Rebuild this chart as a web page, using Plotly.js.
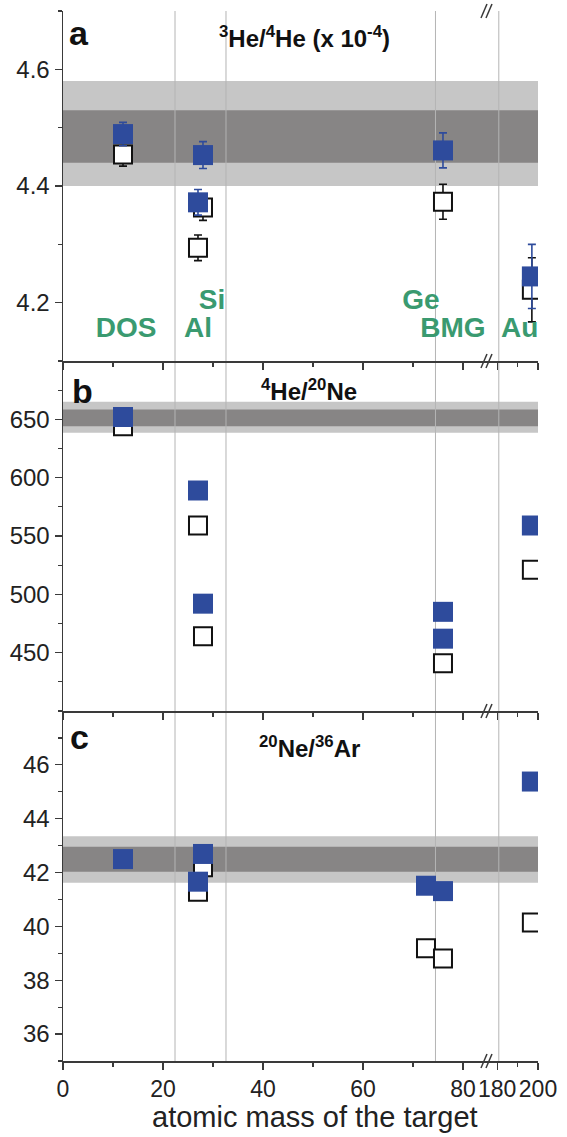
<!DOCTYPE html>
<html><head><meta charset="utf-8">
<script src="https://cdn.plot.ly/plotly-3.0.1.min.js"></script>
<style>html,body{margin:0;padding:0;background:#fff}</style>
</head><body><div id="chart" style="width:567px;height:1137px"></div>
<script>
// ---------- data ----------
// panel a : 3He/4He (x 1e-4)
const heX       = [12, 27, 28, 76, 197];
const heBlue    = [4.489, 4.372, 4.453, 4.461, 4.245];
const heBlueErr = [0.020, 0.022, 0.023, 0.030, 0.055];
const heOpen    = [4.454, 4.294, 4.363, 4.373, 4.222];
const heOpenErr = [0.020, 0.022, 0.022, 0.030, 0.055];
const heBand    = [4.40, 4.58];
const heBandCore= [4.44, 4.53];
const heTicks   = [4.2, 4.4, 4.6];
// panel b : 4He/20Ne
const neBlueX   = [12, 27, 28, 76, 76, 197];
const neBlue    = [652, 589, 492, 485, 462, 559];
const neOpenX   = [12, 27, 28, 76, 197];
const neOpen    = [644, 559, 464, 441, 521];
const neOpenErr = [4, 6, 6, 6, 6];
const neBand    = [638.5, 665];
const neBandCore= [644, 658.5];
const neTicks   = [450, 500, 550, 600, 650];
// panel c : 20Ne/36Ar
const arBlueX   = [12, 27, 28, 72.6, 76, 197];
const arBlue    = [42.50, 41.66, 42.69, 41.51, 41.31, 45.38];
const arOpenX   = [27, 28, 72.6, 76, 197];
const arOpen    = [41.29, 42.20, 39.19, 38.81, 40.14];
const arOpenErr = [0.15, 0.15, 0.15, 0.15, 0.15];
const arBand    = [41.62, 43.35];
const arBandCore= [42.03, 42.96];
const arTicks   = [36, 38, 40, 42, 44, 46];
// x ticks
const xTicksLeft  = [0, 20, 40, 60, 80];
const xTicksRight = [180, 200];
// target labels
const labelText = ['DOS', 'Al', 'Si', 'Ge', 'BMG', 'Au'];
const labelX    = [12.6, 27.0, 29.8, 71.6, 78.0, 191];
const labelY    = [4.153, 4.153, 4.202, 4.202, 4.153, 4.153];
// boundaries between target groups
const sepX = [22.4, 32.6, 74.5, 180.8];

// ---------- styling ----------
const BLUE = '#2e4b9c', GREEN = '#3a9a70', AX = '#3a3a3a';
const FONT = 'Liberation Sans, Arial, sans-serif';
const BRK = 0.8947;            // split between the two x segments (paper)
const RL = [0, 85], RR = [175.5, 200];
const px2x = p => (p - 63) / 475;
const py2y = p => (1061 - p) / 1050;

function split(xs, ys, es, right) {
  const o = {x: [], y: [], e: []};
  xs.forEach((v, i) => {
    if ((v > 100) === right) { o.x.push(v); o.y.push(ys[i]); o.e.push(es ? es[i] : 0); }
  });
  return o;
}
const traces = [];
function addSeries(xs, ys, es, open, xa, xb, ya) {
  [false, true].forEach(right => {
    const d = split(xs, ys, es, right);
    if (!d.x.length) return;
    traces.push({
      type: 'scatter', mode: 'markers', x: d.x, y: d.y,
      xaxis: right ? xb : xa, yaxis: ya, showlegend: false, cliponaxis: true,
      marker: open ? {symbol: 'square', size: 18, color: '#fff', line: {color: '#111', width: 2}}
                   : {symbol: 'square', size: 20, color: BLUE, line: {width: 0}},
      error_y: es ? {type: 'data', array: d.e, visible: true, color: open ? '#111' : BLUE,
                     thickness: 1.6, width: 4} : {visible: false}
    });
  });
}
// panel a
addSeries(heX, heOpen, heOpenErr, true, 'x', 'x2', 'y');
addSeries(heX, heBlue, heBlueErr, false, 'x', 'x2', 'y');
// panel b
addSeries(neOpenX, neOpen, neOpenErr, true, 'x3', 'x4', 'y2');
addSeries(neBlueX, neBlue, null, false, 'x3', 'x4', 'y2');
// panel c
addSeries(arOpenX, arOpen, arOpenErr, true, 'x5', 'x6', 'y3');
addSeries(arBlueX, arBlue, null, false, 'x5', 'x6', 'y3');
// target labels
[false, true].forEach(right => {
  const t = [], x = [], y = [];
  labelX.forEach((v, i) => { if ((v > 100) === right) { t.push('<b>' + labelText[i] + '</b>'); x.push(v); y.push(labelY[i]); } });
  traces.push({type: 'scatter', mode: 'text', x, y, text: t, textposition: 'middle center',
    xaxis: right ? 'x2' : 'x', yaxis: 'y', cliponaxis: true, showlegend: false, hoverinfo: 'skip',
    textfont: {family: FONT, size: 28, color: GREEN}});
});

// ---------- axes ----------
const baseX = {showline: true, linecolor: AX, linewidth: 1.5, ticks: 'outside', ticklen: 7,
  tickwidth: 1.2, tickcolor: AX, showgrid: false, zeroline: false, showticklabels: false, tickangle: 0,
  tickfont: {family: FONT, size: 23, color: '#222'}, fixedrange: true};
function leftX(anchor, extra) {
  return Object.assign({}, baseX, {domain: [0, BRK], range: RL, anchor, tickmode: 'array', tickvals: xTicksLeft,
    minor: {tickmode: 'linear', dtick: 10, tick0: 0, ticks: 'outside', ticklen: 4, tickcolor: AX}}, extra || {});
}
function rightX(anchor, extra) {
  return Object.assign({}, baseX, {domain: [BRK, 1], range: RR, anchor, tickmode: 'array', tickvals: xTicksRight,
    minor: {tickmode: 'linear', tick0: 0, dtick: 10, ticks: 'outside', ticklen: 4, tickcolor: AX}}, extra || {});
}
const baseY = {showline: true, linecolor: AX, linewidth: 1.5, ticks: 'outside', ticklen: 7, tickwidth: 1.2,
  tickcolor: AX, showgrid: false, zeroline: false, tickfont: {family: FONT, size: 24, color: '#222'}, fixedrange: true};
function yAx(domain, range, vals, anchor) {
  const step = (vals[1] - vals[0]) / 2;
  return Object.assign({}, baseY, {domain, range, anchor, tickmode: 'array', tickvals: vals,
    minor: {tickmode: 'linear', tick0: vals[0], dtick: step, ticks: 'outside', ticklen: 4, tickcolor: AX}});
}
function yRight(over, range, vals, anchor) {
  const step = (vals[1] - vals[0]) / 2;
  return Object.assign({}, baseY, {overlaying: over, side: 'right', range, anchor, tickmode: 'array', tickvals: vals,
    ticks: 'inside', showticklabels: false, minor: {tickmode: 'linear', tick0: vals[0], dtick: step, ticks: 'inside', ticklen: 6, tickcolor: AX}});
}
const yA = [4.1, 4.7], yB = [400, 700], yC = [35, 48];
const layout = {
  width: 567, height: 1137, paper_bgcolor: '#fff', plot_bgcolor: 'rgba(0,0,0,0)',
  margin: {l: 63, r: 29, t: 11, b: 76}, showlegend: false, font: {family: FONT},
  xaxis: leftX('y'), xaxis2: rightX('y'),
  xaxis3: leftX('y2'), xaxis4: rightX('y2'),
  xaxis5: leftX('y3', {showticklabels: true}), xaxis6: rightX('y3', {showticklabels: true}),
  xaxis7: leftX('y', {overlaying: 'x', side: 'top', ticks: 'inside', minor: {tickmode: 'linear', dtick: 10, tick0: 0, ticks: 'inside', ticklen: 4, tickcolor: AX}}),
  xaxis8: rightX('y', {overlaying: 'x2', side: 'top', ticks: 'inside', minor: {tickmode: 'linear', tick0: 0, dtick: 10, ticks: 'inside', ticklen: 4, tickcolor: AX}}),
  yaxis: yAx([2/3, 1], yA, heTicks, 'x'),
  yaxis2: yAx([1/3, 2/3], yB, neTicks, 'x3'),
  yaxis3: yAx([0, 1/3], yC, arTicks, 'x5'),
  yaxis4: yRight('y', yA, heTicks, 'x2'),
  yaxis5: yRight('y2', yB, neTicks, 'x4'),
  yaxis6: yRight('y3', yC, arTicks, 'x6'),
  shapes: [], annotations: []
};
// bands
[[heBand, heBandCore, 'y'], [neBand, neBandCore, 'y2'], [arBand, arBandCore, 'y3']].forEach(([b, c, ya]) => {
  layout.shapes.push({type: 'rect', layer: 'below', xref: 'paper', x0: 0, x1: 1, yref: ya, y0: b[0], y1: b[1], fillcolor: '#c6c6c6', line: {width: 0}});
  layout.shapes.push({type: 'rect', layer: 'below', xref: 'paper', x0: 0, x1: 1, yref: ya, y0: c[0], y1: c[1], fillcolor: '#878585', line: {width: 0}});
});
// group separators
sepX.forEach(v => layout.shapes.push({type: 'line', layer: 'below', xref: v > 100 ? 'x2' : 'x', x0: v, x1: v,
  yref: 'paper', y0: 0, y1: 1, line: {color: '#b4b4b4', width: 1}}));
// axis break marks
[0, 1/3, 2/3, 1].forEach(yb => {
  [-4, 1].forEach(dx => layout.shapes.push({type: 'line', layer: 'above', xref: 'paper', xsizemode: 'pixel', xanchor: BRK,
    x0: dx - 3, x1: dx + 3, yref: 'paper', ysizemode: 'pixel', yanchor: yb, y0: -7, y1: 7, line: {color: AX, width: 1.5}}));
});
// titles and panel letters
const ann = (text, px, py, size, extra) => layout.annotations.push(Object.assign({text, xref: 'paper', yref: 'paper',
  x: px2x(px), y: py2y(py), showarrow: false, xanchor: 'center', yanchor: 'middle', font: {family: FONT, size, color: '#111'}}, extra || {}));
ann('<b><sup>3</sup>He/<sup>4</sup>He (x 10<sup>-4</sup>)</b>', 304, 37, 24);
ann('<b><sup>4</sup>He/<sup>20</sup>Ne</b>', 309, 390, 24);
ann('<b><sup>20</sup>Ne/<sup>36</sup>Ar</b>', 309, 747, 24);
ann('<b>a</b>', 79, 33, 34);
ann('<b>b</b>', 82, 391, 34);
ann('<b>c</b>', 79, 737, 34);
ann('atomic mass of the target', 315, 1117, 29, {font: {family: FONT, size: 29, color: '#222'}});

Plotly.newPlot('chart', traces, layout, {displayModeBar: false, staticPlot: true});
</script></body></html>
